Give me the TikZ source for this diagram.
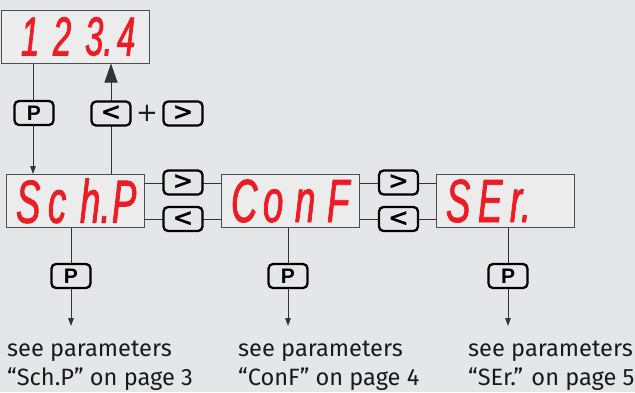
\documentclass[tikz,border=0pt]{standalone}
\usepackage{fontspec}
\setmainfont{Fira Sans}
\newfontfamily\keyfont{Liberation Sans}
\newfontfamily\arrfont{DejaVu Sans}
\newfontfamily\segfont[FakeStretch=0.6,FakeBold=1.2]{Liberation Sans}
\usetikzlibrary{arrows.meta}
\definecolor{bg}{HTML}{E5E6E8}
\definecolor{dispfill}{HTML}{ECECEC}
\definecolor{segred}{HTML}{ED1C24}
\definecolor{wirec}{HTML}{333333}
\definecolor{framec}{HTML}{4D4D4D}
\definecolor{txtc}{HTML}{1A1A1A}
\newcommand\sgc[1]{\makebox[32pt][l]{#1}}
\tikzset{
  display/.style={draw=framec, line width=1pt, fill=dispfill, minimum width=136pt, minimum height=53pt, inner sep=0pt, text=segred},
  topseg/.style={font=\segfont\itshape\fontsize{55}{55}\selectfont},
  botseg/.style={font=\segfont\itshape\fontsize{61}{61}\selectfont},
  keybox/.style={draw=black, line width=2.3pt, rounded corners=4.5pt, fill=bg, minimum width=39pt, minimum height=24pt, inner sep=0pt, font=\keyfont\bfseries\fontsize{21}{21}\selectfont},
  keyarr/.style={font=\arrfont\bfseries\fontsize{25}{25}\selectfont},
  wire/.style={draw=wirec, line width=1pt},
  smallarr/.style={-{Triangle[length=8pt,width=5.5pt]}},
  bigarr/.style={-{Triangle[length=19pt,width=13pt]}},
  txt/.style={text=txtc, inner sep=0pt, font=\fontsize{23.6}{29}\selectfont}
}
\begin{document}
\begin{tikzpicture}[x=1pt,y=-1pt]
\useasboundingbox (0,0) rectangle (635,392);
\fill[bg] (0,0) rectangle (635,392);
% displays
\node[display,topseg] (top) at (75,36.5) {\hspace*{20pt}\sgc{1}\sgc{2}\sgc{3.}\sgc{4}};
\node[display,botseg] (schp) at (75,201) {\hspace*{10pt}\sgc{S}\sgc{c}\sgc{h.}\sgc{P}};
\node[display,botseg] (conf) at (290,201) {\hspace*{10pt}\sgc{C}\sgc{o}\sgc{n}\sgc{F}};
\node[display,botseg] (ser) at (505,201) {\hspace*{10pt}\sgc{S}\sgc{E}\sgc{r.}\sgc{}};
% helper coordinates
\coordinate (xl) at (33,0);
\coordinate (xr) at (111,0);
\coordinate (ya) at (0,183);
\coordinate (yb) at (0,219);
\coordinate (e1) at (71,326);
\coordinate (e2) at (288,326);
\coordinate (e3) at (508,326);
% connectors
\draw[wire,smallarr] (top.south -| xl) -- (schp.north -| xl);
\draw[wire,bigarr] (schp.north -| xr) -- (top.south -| xr);
\draw[wire] (schp.east |- ya) -- (conf.west |- ya);
\draw[wire] (schp.east |- yb) -- (conf.west |- yb);
\draw[wire] (conf.east |- ya) -- (ser.west |- ya);
\draw[wire] (conf.east |- yb) -- (ser.west |- yb);
\draw[wire,smallarr] (schp.south -| e1) -- (e1);
\draw[wire,smallarr] (conf.south -| e2) -- (e2);
\draw[wire,smallarr] (ser.south -| e3) -- (e3);
% keys
\node[keybox] (kp0) at (34,113) {P};
\node[keybox,keyarr] (kl0) at (111,113.5) {<};
\node[text=txtc, inner sep=0pt, font=\arrfont\fontsize{26}{26}\selectfont] (plus) at (147,113) {+};
\node[keybox,keyarr] (kr0) at (183,113.5) {>};
\node[keybox,keyarr] (kr1) at (183,182.5) {>};
\node[keybox,keyarr] (kl1) at (183,219) {<};
\node[keybox,keyarr] (kr2) at (398.5,182.5) {>};
\node[keybox,keyarr] (kl2) at (398.5,219) {<};
\node[keybox] (kp1) at (71,276) {P};
\node[keybox] (kp2) at (288,276) {P};
\node[keybox] (kp3) at (508,276) {P};
% texts
\node[txt,anchor=base west] (t1) at (7,356) {\begin{tabular}[t]{@{}l@{}}see parameters\\“Sch.P” on page 3\end{tabular}};
\node[txt,anchor=base west] (t2) at (238,356) {\begin{tabular}[t]{@{}l@{}}see parameters\\“ConF” on page 4\end{tabular}};
\node[txt,anchor=base west] (t3) at (468,356) {\begin{tabular}[t]{@{}l@{}}see parameters\\“SEr.” on page 5\end{tabular}};
\end{tikzpicture}
\end{document}
